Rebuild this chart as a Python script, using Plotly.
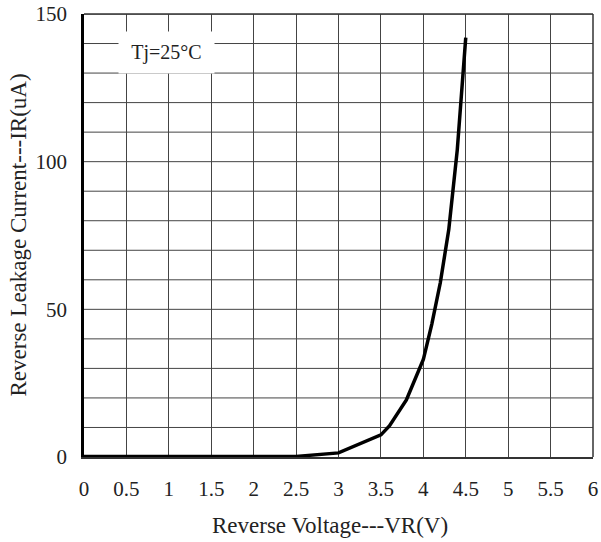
import plotly.graph_objects as go

voltage = [0, 0.5, 1.0, 1.5, 2.0, 2.5, 3.0, 3.5, 3.6, 3.8, 4.0, 4.1, 4.2, 4.3, 4.4, 4.5]
current = [0.2, 0.2, 0.2, 0.2, 0.2, 0.2, 1.4, 7.5, 10.5, 19.3, 33.0, 45.0, 59.0, 77.0, 104.0, 142.0]

x_ticks = [0, 0.5, 1, 1.5, 2, 2.5, 3, 3.5, 4, 4.5, 5, 5.5, 6]
x_labels = ["0", "0.5", "1", "1.5", "2", "2.5", "3", "3.5", "4", "4.5", "5", "5.5", "6"]
y_ticks = [0, 50, 100, 150]
y_grid = list(range(10, 151, 10))

font = "Liberation Serif"

fig = go.Figure()
fig.add_trace(go.Scatter(x=voltage, y=current, mode="lines",
                         line=dict(color="black", width=3.5), showlegend=False,
                         hoverinfo="skip"))

fig.update_layout(
    width=601, height=542,
    margin=dict(l=84, r=8, t=14, b=85),
    plot_bgcolor="white", paper_bgcolor="white",
    font=dict(family=font, size=21, color="#222"),
    xaxis=dict(range=[0, 6], tickvals=x_ticks, ticktext=x_labels,
               showgrid=True, gridcolor="#444", gridwidth=1,
               showline=True, linecolor="#333", linewidth=2, mirror=False,
               ticks="", ticklabelstandoff=12, zeroline=False, automargin=False,
               ticklabeloverflow="allow"),
    yaxis=dict(range=[0, 150], tickvals=y_ticks,
               showgrid=False,
               showline=True, linecolor="black", linewidth=2.5,
               ticks="", ticklabelstandoff=10, zeroline=False, automargin=False,
               ticklabeloverflow="allow"),
)

# horizontal grid every 10 uA
for yv in y_grid:
    fig.add_shape(type="line", xref="paper", yref="y", x0=0, x1=1, y0=yv, y1=yv,
                  line=dict(color="#444", width=1), layer="below")
# right and top frame
fig.add_shape(type="line", xref="paper", yref="paper", x0=1, x1=1, y0=0, y1=1,
              line=dict(color="#333", width=1.5))
fig.add_shape(type="line", xref="paper", yref="paper", x0=0, x1=1, y0=1, y1=1,
              line=dict(color="#333", width=1.5))

# axis titles
fig.add_annotation(x=0.483, y=0, xref="paper", yref="paper", yshift=-68,
                   text="Reverse Voltage---VR(V)", showarrow=False,
                   xanchor="center", yanchor="middle",
                   font=dict(family=font, size=23, color="#222"))
fig.add_annotation(x=0, y=0.5, xref="paper", yref="paper", xshift=-66,
                   text="Reverse Leakage Current---IR(uA)", showarrow=False,
                   textangle=-90, xanchor="center", yanchor="middle",
                   font=dict(family=font, size=23, color="#222"))

fig.add_annotation(x=0.97, y=137, xref="x", yref="y", text="Tj=25°C",
                   showarrow=False, bgcolor="white", width=93, height=39,
                   xanchor="center", yanchor="middle", align="center",
                   font=dict(family=font, size=20, color="#222"))

fig.write_html("out.html", config={"displayModeBar": False},
               post_script="document.body.style.margin='0';")
